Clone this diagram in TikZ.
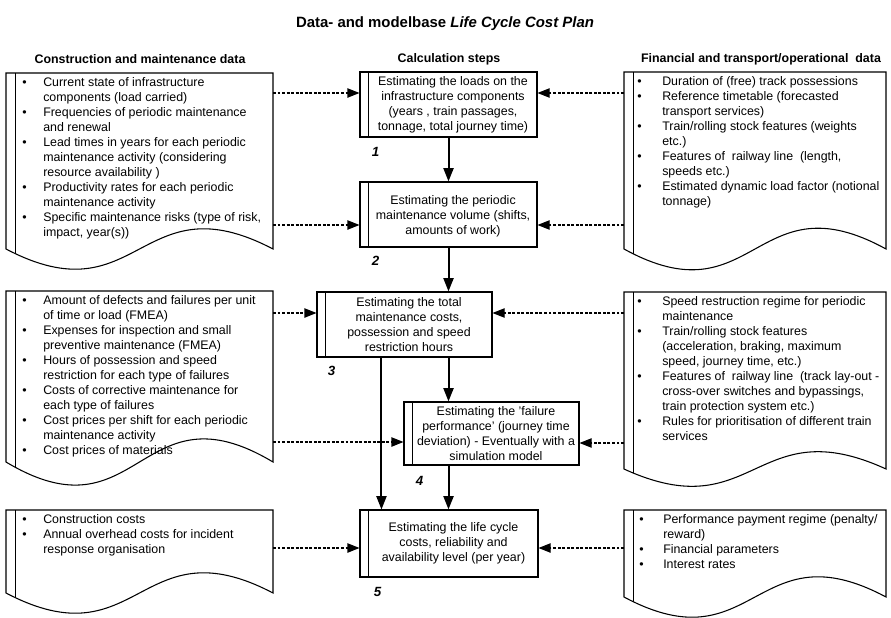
\documentclass[tikz,border=0pt]{standalone}
\usepackage{fontspec}
\setmainfont{Liberation Sans}
\usetikzlibrary{arrows.meta,calc}
\newcommand\bodyfont{\fontsize{9.3pt}{11.25pt}\selectfont}
\newcommand\headfont{\fontsize{9.3pt}{11.25pt}\selectfont\bfseries}
\newcommand\titlefont{\fontsize{11.2pt}{13pt}\selectfont\bfseries}
\newcommand\numfont{\fontsize{10pt}{12pt}\selectfont\bfseries\itshape}
\newcommand\blist[2]{\begin{tabular}{@{}p{#1}@{}l@{}}#2\end{tabular}}
\newcommand\docshape[5]{%
  \draw[shp, fill=white] (#1,#4) -- (#1,#2) -- (#3,#2) -- (#3,#4)
     .. controls ({(#1+#3)/2},{#4-#5}) and ({(#1+#3)/2},{#4+#5}) .. cycle;
  \begin{scope}
    \clip (#1,#4) -- (#1,#2) -- (#3,#2) -- (#3,#4)
     .. controls ({(#1+#3)/2},{#4-#5}) and ({(#1+#3)/2},{#4+#5}) .. cycle;
    \draw[innerline] ({#1+9},#2) -- ({#1+9},{#4+80});
  \end{scope}}
\tikzset{
  shp/.style={draw=black, line width=0.8pt},
  innerline/.style={draw=black, line width=0.6pt},
  stepbox/.style={draw=black, line width=0.8pt, inner sep=0pt, fill=white},
  steptext/.style={align=center, inner sep=0pt, font=\bodyfont},
  dataflow/.style={line width=0.8pt, dash pattern=on 2.2pt off 1.2pt, -{Triangle[length=9pt,width=7pt]}},
  mainflow/.style={line width=1.5pt, -{Triangle[length=10pt,width=7.5pt]}},
  numlabel/.style={font=\numfont, inner sep=0pt},
  header/.style={font=\headfont, inner sep=0pt},
  listtext/.style={anchor=north west, inner sep=0pt, font=\bodyfont, align=left},
}
\begin{document}
\begin{tikzpicture}[x=0.75pt,y=-0.75pt]
\useasboundingbox (0,0) rectangle (891,617);

% title and headers
\node[font=\titlefont, inner sep=0pt] (title) at (445,24) {Data- and modelbase \textit{Life Cycle Cost Plan}};
\node[header] (hleft) at (140,59) {Construction and maintenance data};
\node[header] (hmid) at (449,59) {Calculation steps};
\node[header] (hright) at (761,59) {Financial and transport/operational\ \ data};

% document shapes
\docshape{6}{73}{273}{249}{70}
\docshape{624}{72}{886}{249}{72}
\docshape{6}{291}{273}{462}{80}
\docshape{624}{292}{886}{469}{60}
\docshape{6}{510}{273}{593}{70}
\docshape{624}{510}{886}{597}{70}

% list texts
\node[listtext] (l1t) at (22,76) {\blist{15.75pt}{%
\textbullet & Current state of infrastructure\\
 & components (load carried)\\
\textbullet & Frequencies of periodic maintenance\\
 & and renewal\\
\textbullet & Lead times in years for each periodic\\
 & maintenance activity (considering\\
 & resource availability )\\
\textbullet & Productivity rates for each periodic\\
 & maintenance activity\\
\textbullet & Specific maintenance risks (type of risk,\\
 & impact, year(s))}};

\node[listtext] (r1t) at (637,75) {\blist{18.75pt}{%
\textbullet & Duration of (free) track possessions\\
\textbullet & Reference timetable (forecasted\\
 & transport services)\\
\textbullet & Train/rolling stock features (weights\\
 & etc.)\\
\textbullet & Features of\ \ railway line\ \ (length,\\
 & speeds etc.)\\
\textbullet & Estimated dynamic load factor (notional\\
 & tonnage)}};

\node[listtext] (l2t) at (22,294) {\blist{15.75pt}{%
\textbullet & Amount of defects and failures per unit\\
 & of time or load (FMEA)\\
\textbullet & Expenses for inspection and small\\
 & preventive maintenance (FMEA)\\
\textbullet & Hours of possession and speed\\
 & restriction for each type of failures\\
\textbullet & Costs of corrective maintenance for\\
 & each type of failures\\
\textbullet & Cost prices per shift for each periodic\\
 & maintenance activity\\
\textbullet & Cost prices of materials}};

\node[listtext] (r2t) at (637,295) {\blist{18.75pt}{%
\textbullet & Speed restruction regime for periodic\\
 & maintenance\\
\textbullet & Train/rolling stock features\\
 & (acceleration, braking, maximum\\
 & speed, journey time, etc.)\\
\textbullet & Features of\ \ railway line\ \ (track lay-out -\\
 & cross-over switches and bypassings,\\
 & train protection system etc.)\\
\textbullet & Rules for prioritisation of different train\\
 & services}};

\node[listtext] (l3t) at (22,513) {\blist{15.75pt}{%
\textbullet & Construction costs\\
\textbullet & Annual overhead costs for incident\\
 & response organisation}};

\node[listtext] (r3t) at (639,513) {\blist{18pt}{%
\textbullet & Performance payment regime (penalty/\\
 & reward)\\
\textbullet & Financial parameters\\
\textbullet & Interest rates}};

% connector anchor points on the document shapes
\coordinate (l1a) at (273,93);  \coordinate (l1b) at (273,225);
\coordinate (r1a) at (624,93);  \coordinate (r1b) at (624,225);
\coordinate (l2a) at (273,313); \coordinate (l2b) at (273,442);
\coordinate (r2a) at (624,313); \coordinate (r2b) at (624,443);
\coordinate (l3a) at (273,548); \coordinate (r3a) at (624,548);

% calculation steps
\node[stepbox, minimum width=132.75pt, minimum height=48.75pt] (s1) at (448.5,104.5) {};
\node[stepbox, minimum width=132.75pt, minimum height=48.75pt] (s2) at (448.5,214.5) {};
\node[stepbox, minimum width=131.25pt, minimum height=48.75pt] (s3) at (404.5,324.5) {};
\node[stepbox, minimum width=131.25pt, minimum height=47.25pt] (s4) at (491.5,433.5) {};
\node[stepbox, minimum width=133.5pt, minimum height=50.25pt] (s5) at (449,543.5) {};
\foreach \s in {s1,s2,s3,s4,s5}{
  \draw[innerline] ([xshift=6.75pt]\s.north west) -- ([xshift=6.75pt]\s.south west);
}
\node[steptext] (t1) at ($(s1.center)+(4.5,0)$) {Estimating the loads on the\\infrastructure components\\(years , train passages,\\tonnage, total journey time)};
\node[steptext] (t2) at ($(s2.center)+(4.5,1.5)$) {Estimating the periodic\\maintenance volume (shifts,\\amounts of work)};
\node[steptext] (t3) at ($(s3.center)+(4.5,0)$) {Estimating the total\\maintenance costs,\\possession and speed\\restriction hours};
\node[steptext] (t4) at ($(s4.center)+(4.5,0)$) {Estimating the 'failure\\performance' (journey time\\deviation) - Eventually with a\\simulation model};
\node[steptext] (t5) at ($(s5.center)+(4.5,0)$) {Estimating the life cycle\\costs, reliability and\\availability level (per year)};

\node[numlabel] (n1) at ([xshift=12pt,yshift=-11pt]s1.south west) {1};
\node[numlabel] (n2) at ([xshift=12pt,yshift=-9.75pt]s2.south west) {2};
\node[numlabel] (n3) at ([xshift=11.25pt,yshift=-9.75pt]s3.south west) {3};
\node[numlabel] (n4) at ([xshift=12pt,yshift=-11.25pt]s4.south west) {4};
\node[numlabel] (n5) at ([xshift=13.5pt,yshift=-10.5pt]s5.south west) {5};

% main flow
\draw[mainflow] (s1.south) -- (s2.north);
\draw[mainflow] (s2.south) -- (s2.south |- s3.north);
\draw[mainflow] (s2.south |- s3.south) -- (s2.south |- s4.north);
\draw[mainflow] ([xshift=48.75pt]s3.south west) -- ([xshift=48.75pt]s3.south west |- s5.north);
\draw[mainflow] (s2.south |- s4.south) -- (s2.south |- s5.north);

% data flows
\draw[dataflow] (l1a) -- (l1a -| s1.west);
\draw[dataflow] (l1b) -- (l1b -| s2.west);
\draw[dataflow] (r1a) -- (r1a -| s1.east);
\draw[dataflow] (r1b) -- (r1b -| s2.east);
\draw[dataflow] (l2a) -- (l2a -| s3.west);
\draw[dataflow] (l2b) -- (l2b -| s4.west);
\draw[dataflow] (r2a) -- (r2a -| s3.east);
\draw[dataflow] (r2b) -- (r2b -| s4.east);
\draw[dataflow] (l3a) -- (l3a -| s5.west);
\draw[dataflow] (r3a) -- (r3a -| s5.east);
\end{tikzpicture}
\end{document}
